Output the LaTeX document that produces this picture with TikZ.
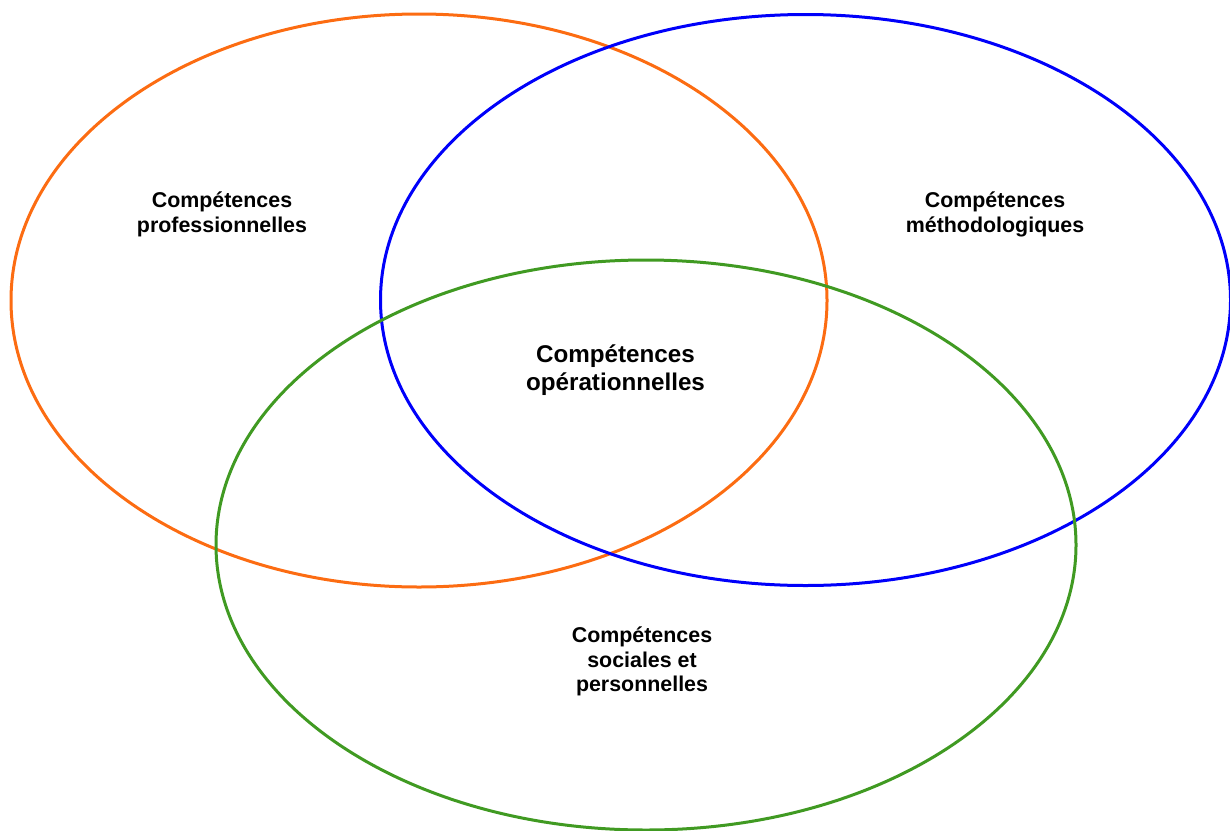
\documentclass[tikz,border=0pt]{standalone}
\usepackage{fontspec}
\setmainfont{Liberation Sans}
\usepackage{tikz}

\definecolor{ringorange}{RGB}{252,108,18}
\definecolor{ringblue}{RGB}{0,0,250}
\definecolor{ringgreen}{RGB}{64,154,34}

\begin{document}
\begin{tikzpicture}[x=1pt, y=-1pt, line width=3pt,
	label/.style={align=center, font=\bfseries\fontsize{21.4}{24.8}\selectfont, inner sep=0pt},
	biglabel/.style={align=center, font=\bfseries\fontsize{24.2}{28}\selectfont, inner sep=0pt}]
	%%% Frame
	\useasboundingbox (0,0) rectangle (1230,830);
	%%% Ellipses
	\draw[ringorange] (419,300.5) ellipse [x radius=408, y radius=286.5];
	\draw[ringblue] (805.5,300) ellipse [x radius=425, y radius=285.5];
	\draw[ringgreen] (646,545) ellipse [x radius=430, y radius=285];
	%%% Labels
	\node[label] (prof) at (222,214.5) {Compétences\\professionnelles};
	\node[label] (meth) at (995,214.5) {Compétences\\méthodologiques};
	\node[biglabel] (oper) at (615.5,370.5) {Compétences\\opérationnelles};
	\node[label] (soc) at (642,661.5) {Compétences\\sociales et\\personnelles};
\end{tikzpicture}
\end{document}
